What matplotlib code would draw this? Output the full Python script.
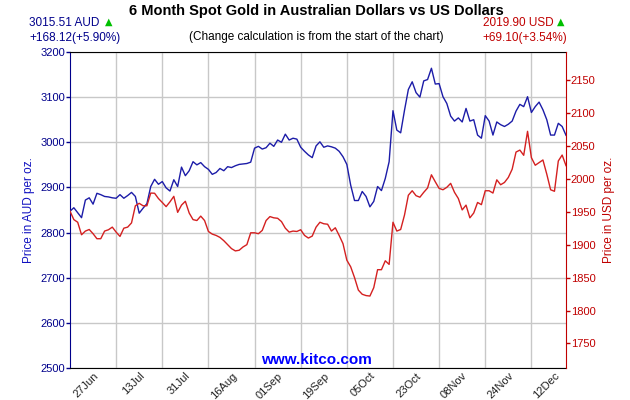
import matplotlib
matplotlib.use("Agg")
import matplotlib.pyplot as plt
import numpy as np

plt.rcParams['font.family'] = ['Liberation Sans', 'DejaVu Sans']

# daily closes, trading-day index
aud = [2847.4, 2855, 2844, 2833, 2872, 2877, 2863, 2887, 2884, 2880,
       2879, 2877, 2876, 2884, 2876, 2882, 2889, 2880, 2843, 2854,
       2864, 2902, 2918, 2907, 2913, 2899, 2892, 2917, 2902, 2945,
       2926, 2937, 2957, 2950, 2955, 2946, 2940, 2929, 2933, 2942,
       2937, 2946, 2944, 2948, 2951, 2952, 2953, 2956, 2987, 2991,
       2985, 2988, 2998, 2991, 3005, 3000, 3018, 3005, 3009, 3007,
       2989, 2980, 2972, 2966, 2992, 3001, 2989, 2992, 2990, 2987,
       2980, 2968, 2951, 2905, 2871, 2871, 2891, 2880, 2857, 2869,
       2902, 2893, 2920, 2957, 3070, 3027, 3021, 3071, 3117, 3134,
       3110, 3100, 3136, 3139, 3164, 3129, 3130, 3101, 3086, 3058,
       3047, 3054, 3045, 3075, 3047, 3050, 3016, 3009, 3059, 3047,
       3016, 3045, 3039, 3035, 3040, 3047, 3069, 3084, 3079, 3101,
       3066, 3079, 3089, 3072, 3050, 3016, 3016, 3042, 3035, 3015.51]

usd = [1950.8, 1938, 1934, 1915, 1920.6, 1923, 1916.6, 1909, 1909, 1920.6,
       1922.6, 1926.6, 1919, 1912.5, 1925, 1926.6, 1933, 1959, 1962.7, 1959,
       1959, 1978.3, 1978, 1970, 1964, 1957.7, 1965, 1973.3, 1949, 1960,
       1965.8, 1948, 1938, 1936.6, 1943.3, 1936.6, 1920, 1916, 1914, 1911,
       1906, 1900, 1894, 1890.5, 1891.5, 1896.5, 1900, 1918, 1918, 1916.6,
       1921.6, 1936.6, 1942.6, 1940.7, 1940, 1935, 1925, 1919, 1920.6, 1920,
       1922.6, 1914, 1910, 1913, 1926.6, 1934, 1931.7, 1931, 1920.6, 1925.6,
       1914, 1901.5, 1876.4, 1866.4, 1850, 1831, 1824.7, 1822.7, 1822, 1834.7,
       1862, 1862, 1875.5, 1870, 1934, 1920.6, 1923, 1945, 1975, 1981.8,
       1974.3, 1972, 1979.4, 1986, 2006, 1995.4, 1985.4, 1983.3, 1987, 1993,
       1979.4, 1970, 1952.7, 1960, 1940.7, 1948, 1964, 1960.7, 1981.8, 1981.8,
       1978.3, 1998.4, 1990.9, 1994.4, 2002, 2014.5, 2040.5, 2043.5, 2035.6, 2072,
       2032, 2020.5, 2024.6, 2028.5, 2007, 1983.3, 1981, 2027, 2036, 2019.90]

date_labels = ['27Jun', '13Jul', '31Jul', '16Aug', '01Sep', '19Sep',
               '05Oct', '23Oct', '08Nov', '24Nov', '12Dec']
label_pos = [6, 18, 30, 42, 54, 66, 78, 90, 102, 114, 126]
grid_pos = list(range(6, 127, 6))

navy = '#00008b'
blue_line = '#1c1ca8'
dark_red = '#c00000'
red_line = '#d42020'

fig = plt.figure(figsize=(6.3, 4.0), dpi=100)
ax = fig.add_axes([70 / 630, 32 / 400, 496 / 630, 316 / 400])
ax2 = ax.twinx()

x = np.arange(len(aud))
ax2.plot(x, usd, color=red_line, linewidth=1.0)
ax.plot(x, aud, color=blue_line, linewidth=1.0, zorder=3)

ax.set_xlim(0, len(aud) - 1)
ax.set_ylim(2500, 3200)
# USD axis is the AUD axis scaled by the starting exchange rate
rate = usd[0] / aud[0]
ax2.set_ylim(2500 * rate, 3200 * rate)

ax.set_yticks(np.arange(2500, 3201, 100))
ax2.set_yticks(np.arange(1750, 2151, 50))
ax.set_xticks(grid_pos, minor=True)
ax.set_xticks(label_pos)
ax.set_xticklabels(date_labels, rotation=45, ha='right', rotation_mode='anchor',
                   fontsize=8, color='#202020')
ax.tick_params(axis='x', which='both', length=0, pad=2)

ax.grid(True, which='minor', axis='x', color='#c8c8c8', linewidth=1)
ax.grid(True, which='major', axis='y', color='#c8c8c8', linewidth=1)
ax.set_axisbelow(True)

ax.tick_params(axis='y', colors=navy, labelsize=8, length=3, width=1, pad=0.5)
ax2.tick_params(axis='y', colors=dark_red, labelsize=8, length=3, width=1, pad=0.5)

for s in ['top', 'bottom']:
    ax.spines[s].set_color('black')
    ax2.spines[s].set_visible(False)
ax.spines['left'].set_color(navy)
ax2.spines['left'].set_visible(False)
ax2.spines['right'].set_color(dark_red)
ax.spines['right'].set_visible(False)

ax.set_ylabel('Price in AUD per oz.', color='#1010c0', fontsize=8.5, labelpad=4)
ax2.set_ylabel('Price in USD per oz.', color=dark_red, fontsize=8.5, labelpad=5)

def fx(px):
    return px / 630

def fy(py):
    return 1 - py / 400

fig.text(fx(316), fy(11), '6 Month Spot Gold in Australian Dollars vs US Dollars',
         ha='center', va='center', fontsize=10.5, fontweight='bold')
fig.text(fx(29), fy(23), '3015.51 AUD', ha='left', va='center', fontsize=8.5, color=navy)
fig.text(fx(105), fy(22), '\u25b2', ha='left', va='center', fontsize=7,
         color='#00c000', family='DejaVu Sans')
fig.text(fx(29), fy(38), '+168.12(+5.90%)', ha='left', va='center', fontsize=8.5, color=navy)
fig.text(fx(316), fy(37), '(Change calculation is from the start of the chart)',
         ha='center', va='center', fontsize=8.5, color='black')
fig.text(fx(554), fy(23), '2019.90 USD', ha='right', va='center', fontsize=8.5, color=dark_red)
fig.text(fx(557), fy(22), '\u25b2', ha='left', va='center', fontsize=7,
         color='#00c000', family='DejaVu Sans')
fig.text(fx(567), fy(38), '+69.10(+3.54%)', ha='right', va='center', fontsize=8.5, color=dark_red)
fig.text(fx(316), fy(360), 'www.kitco.com', ha='center', va='center', fontsize=11,
         fontweight='bold', color='#0000ff')

fig.savefig('out.png', dpi=100)
